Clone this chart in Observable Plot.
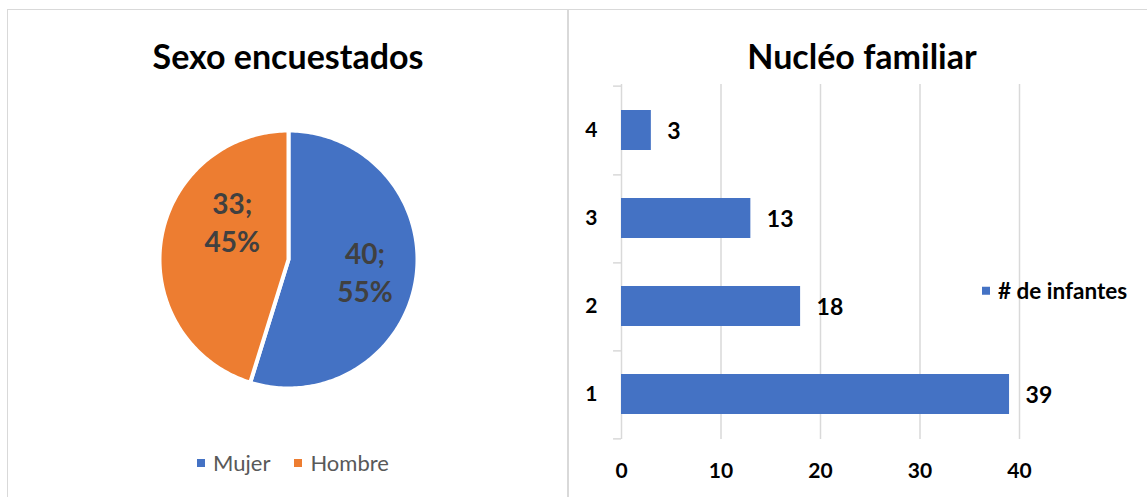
<!DOCTYPE html>
<html>
<head>
<meta charset="utf-8">
<script src="https://cdn.jsdelivr.net/npm/d3@7"></script>
<script src="https://cdn.jsdelivr.net/npm/@observablehq/plot@0.6"></script>
<style>
  html, body { margin: 0; padding: 0; background: #fff; }
  #root { position: relative; width: 1147px; height: 497px; overflow: hidden; background: #fff; font-family: Lato, "Open Sans", sans-serif; }
  .panel { position: absolute; box-sizing: border-box; }
  .title { position: absolute; font-weight: 700; font-size: 34px; color: #000; white-space: nowrap; transform: translate(-50%, -50%); line-height: 1; }
  .abs { position: absolute; }
  .legend { position: absolute; white-space: nowrap; transform: translateY(-50%); line-height: 1; display: flex; align-items: center; }
  .sw { display: inline-block; width: 8px; height: 8px; margin-right: 8px; }
</style>
</head>
<body>
<div id="root">
  <div class="panel" style="left:7px;top:9px;width:562px;height:520px;border:1.5px solid #d9d9d9;"></div>
  <div class="panel" style="left:567px;top:9px;width:620px;height:520px;border-top:1.5px solid #d9d9d9;border-left:1.5px solid #d9d9d9;"></div>
  <div class="title" style="left:288px;top:56px;">Sexo encuestados</div>
  <div class="title" style="left:862px;top:56px;">Nucléo familiar</div>
  <div id="pie" class="abs" style="left:155px;top:126px;"></div>
  <div id="bars" class="abs" style="left:568px;top:60px;"></div>
  <div id="pieLegend" class="legend" style="left:197px;top:463px;font-size:22px;color:#595959;"></div>
  <div id="barLegend" class="legend" style="left:982px;top:291px;font-size:22.5px;font-weight:700;color:#000;"></div>
</div>
<script>
// ---- data ----
const sexLabels = ["Mujer", "Hombre"];
const sexValues = [40, 33];
const sexColors = ["#4472C4", "#ED7D31"];

const familyCategories = ["1", "2", "3", "4"];
const familyValues = [39, 18, 13, 3];
const familySeries = "# de infantes";
const familyTicks = [0, 10, 20, 30, 40];

// ---- pie chart ----
const total = d3.sum(sexValues);
const arcs = d3.pie().sort(null).startAngle(0).endAngle(2 * Math.PI)(sexValues);
const outline = [];
arcs.forEach((a, i) => {
  const name = sexLabels[i];
  outline.push({name, x: 0, y: 0});
  const steps = Math.max(2, Math.ceil((a.endAngle - a.startAngle) / (Math.PI / 180)));
  for (let k = 0; k <= steps; k++) {
    const t = a.startAngle + (a.endAngle - a.startAngle) * k / steps;
    outline.push({name, x: Math.sin(t), y: Math.cos(t)});
  }
  outline.push({name, x: 0, y: 0});
});
// label placement (layout only): radius fraction and angular shift in degrees
const labelPlacement = {Mujer: {r: 0.6, turn: 0}, Hombre: {r: 0.53, turn: 26}};
const pieLabels = arcs.map((a, i) => {
  const name = sexLabels[i];
  const p = labelPlacement[name];
  const mid = (a.startAngle + a.endAngle) / 2 + p.turn * Math.PI / 180;
  return {
    name,
    x: p.r * Math.sin(mid),
    y: p.r * Math.cos(mid),
    text: `${sexValues[i]};\n${Math.round(sexValues[i] / total * 100)}%`
  };
});

const pie = Plot.plot({
  width: 266, height: 266,
  margin: 4,
  x: {domain: [-1, 1], axis: null},
  y: {domain: [-1, 1], axis: null},
  color: {domain: sexLabels, range: sexColors},
  marks: [
    Plot.line(outline, {x: "x", y: "y", z: "name", fill: "name", stroke: "#fff", strokeWidth: 4, strokeLinejoin: "round"}),
    Plot.text(pieLabels, {x: "x", y: "y", text: "text", fill: "#404040", fontSize: 28, fontWeight: 700, lineHeight: 1.36, lineAnchor: "middle", fontFamily: "Lato"})
  ],
  style: {background: "transparent", overflow: "visible"}
});
document.getElementById("pie").appendChild(pie);

// pie legend
const pl = document.getElementById("pieLegend");
sexLabels.forEach((name, i) => {
  const s = document.createElement("span");
  s.className = "sw"; s.style.background = sexColors[i];
  pl.appendChild(s);
  const t = document.createElement("span");
  t.textContent = name;
  t.style.marginRight = i === 0 ? "24px" : "0";
  pl.appendChild(t);
});

// ---- bar chart ----
const familyData = familyCategories.map((c, i) => ({cat: c, value: familyValues[i]}));
const catOrder = familyCategories.slice().reverse(); // top to bottom: 4,3,2,1
const step = 355 / 4;

const bars = Plot.plot({
  width: 579, height: 437,
  marginLeft: 53, marginRight: 128, marginTop: 24, marginBottom: 58,
  x: {domain: [0, 40], axis: null},
  y: {domain: catOrder, paddingInner: 0.55, paddingOuter: 0.275, axis: null},
  marks: [
    Plot.ruleX(familyTicks.slice(1), {stroke: "#d9d9d9", strokeWidth: 1.5}),
    Plot.ruleX([0], {stroke: "#d9d9d9", strokeWidth: 1.5}),
    Plot.ruleY(catOrder, {y: d => d, x1: -0.8, x2: 0, dy: step / 2, stroke: "#d9d9d9", strokeWidth: 1.5}),
    Plot.ruleY([catOrder[0]], {y: d => d, x1: -0.8, x2: 0, dy: -step / 2, stroke: "#d9d9d9", strokeWidth: 1.5}),
    Plot.barX(familyData, {x: "value", y: "cat", fill: "#4472C4"}),
    Plot.text(familyData, {x: "value", y: "cat", text: d => String(d.value), dx: 16, dy: 1, textAnchor: "start", fontSize: 23, fontWeight: 700, fill: "#000", fontFamily: "Lato"}),
    Plot.axisX({ticks: familyTicks, tickSize: 0, tickPadding: 24, fontSize: 21, fontWeight: 700, tickFormat: d => String(d), label: null, color: "#000", fontFamily: "Lato"}),
    Plot.axisY({tickSize: 0, tickPadding: 24, fontSize: 21, fontWeight: 700, label: null, color: "#000", fontFamily: "Lato"})
  ],
  style: {background: "transparent", overflow: "visible", color: "#000"}
});
document.getElementById("bars").appendChild(bars);

// bar legend
const bl = document.getElementById("barLegend");
const bs = document.createElement("span"); bs.className = "sw"; bs.style.background = "#4472C4";
bl.appendChild(bs);
const bt = document.createElement("span"); bt.textContent = familySeries; bl.appendChild(bt);
</script>
</body>
</html>
